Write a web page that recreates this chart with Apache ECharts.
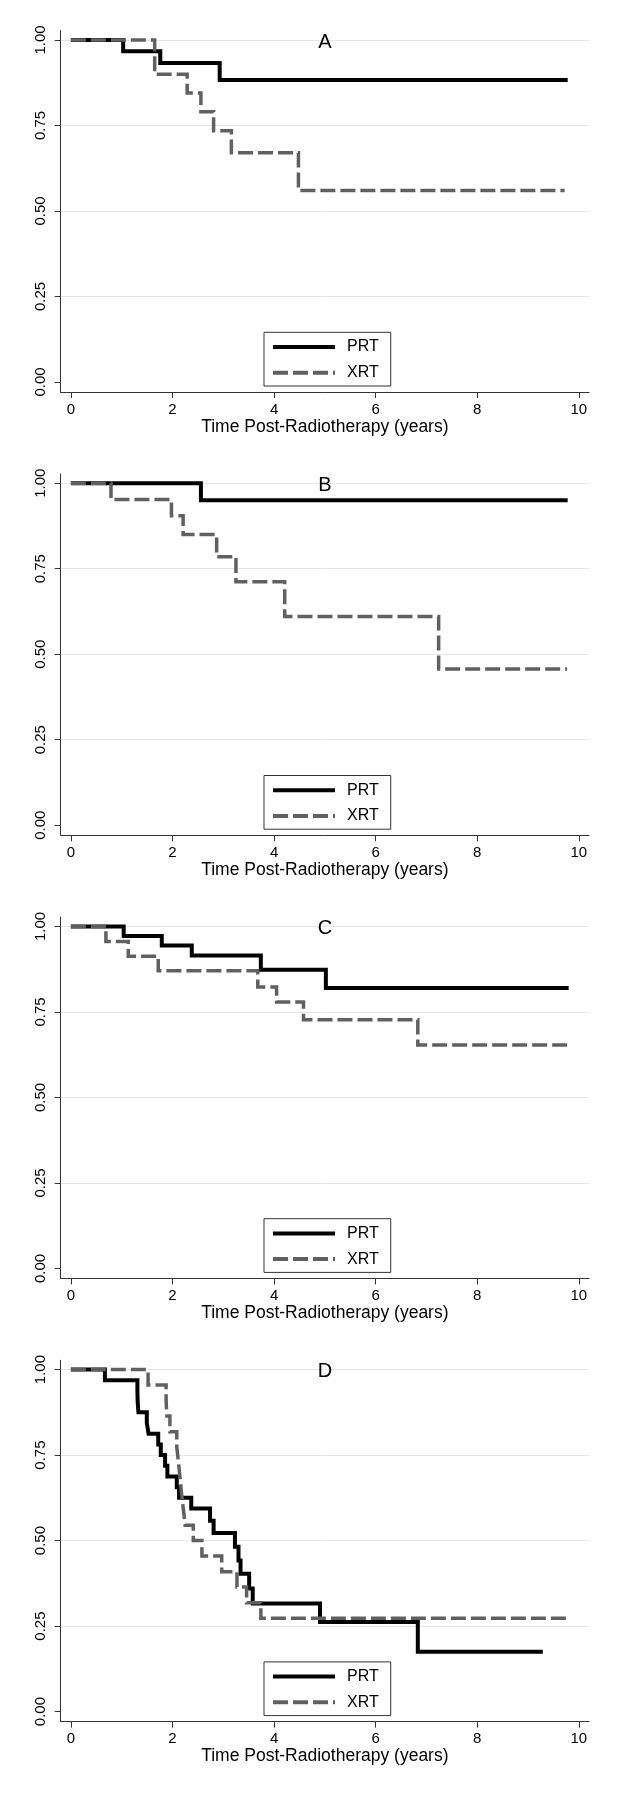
<!DOCTYPE html>
<html>
<head>
<meta charset="utf-8">
<script src="https://cdn.jsdelivr.net/npm/echarts@6/dist/echarts.min.js"></script>
<style>
html,body{margin:0;padding:0;background:#fff;}
#chart{width:619px;height:1800px;}
</style>
</head>
<body>
<div id="chart"></div>
<script>
// ---- Data ----
const panelLabels = ['A', 'B', 'C', 'D'];
const seriesNames = ['PRT', 'XRT'];
const xTickValues = [0, 2, 4, 6, 8, 10];
const yTickValues = [0, 0.25, 0.5, 0.75, 1];
const yGridValues = [0.25, 0.5, 0.75, 1];
const xTitle = 'Time Post-Radiotherapy (years)';

// Panel A
const A_PRT_t = [0, 1.03, 1.76, 2.93, 9.78];
const A_PRT_s = [1, 0.967, 0.933, 0.883, 0.883];
const A_XRT_t = [0, 1.65, 2.29, 2.56, 2.81, 3.16, 4.48, 9.72];
const A_XRT_s = [1, 0.90, 0.845, 0.79, 0.735, 0.67, 0.56, 0.56];
// Panel B
const B_PRT_t = [0, 2.56, 9.78];
const B_PRT_s = [1, 0.95, 0.95];
const B_XRT_t = [0, 0.79, 1.98, 2.21, 2.87, 3.25, 4.21, 7.24, 9.77];
const B_XRT_s = [1, 0.952, 0.905, 0.85, 0.785, 0.712, 0.61, 0.457, 0.457];
// Panel C
const C_PRT_t = [0, 1.04, 1.79, 2.38, 3.74, 5.02, 9.80];
const C_PRT_s = [1, 0.972, 0.944, 0.915, 0.873, 0.82, 0.82];
const C_XRT_t = [0, 0.69, 1.13, 1.72, 3.68, 4.05, 4.58, 6.83, 9.80];
const C_XRT_s = [1, 0.956, 0.913, 0.87, 0.823, 0.779, 0.727, 0.653, 0.653];
// Panel D
const D_PRT_t = [0, 0.67, 1.31, 1.315, 1.33, 1.495, 1.53, 1.72, 1.77, 1.855, 1.90, 2.085, 2.13, 2.37, 2.74, 2.81, 3.23, 3.30, 3.34, 3.51, 3.58, 4.905, 6.83, 9.29];
const D_PRT_s = [1, 0.969, 0.938, 0.906, 0.875, 0.844, 0.8125, 0.781, 0.75, 0.719, 0.6875, 0.656, 0.625, 0.594, 0.558, 0.522, 0.482, 0.442, 0.403, 0.36, 0.316, 0.262, 0.175, 0.175];
const D_XRT_t = [0, 1.52, 1.875, 1.89, 1.95, 2.085, 2.12, 2.15, 2.18, 2.215, 2.25, 2.41, 2.58, 2.97, 3.27, 3.46, 3.74, 9.80];
const D_XRT_s = [1, 0.955, 0.909, 0.864, 0.818, 0.773, 0.727, 0.682, 0.636, 0.591, 0.545, 0.50, 0.455, 0.409, 0.364, 0.318, 0.273, 0.273];

const panelData = [
  [[A_PRT_t, A_PRT_s], [A_XRT_t, A_XRT_s]],
  [[B_PRT_t, B_PRT_s], [B_XRT_t, B_XRT_s]],
  [[C_PRT_t, C_PRT_s], [C_XRT_t, C_XRT_s]],
  [[D_PRT_t, D_PRT_s], [D_XRT_t, D_XRT_s]]
];

// ---- Layout / style ----
const FONT = '"Liberation Sans", Arial, Helvetica, sans-serif';
const PITCH = 443.2;
const GRID_LEFT = 60.7, GRID_RIGHT = 30, GRID_TOP = 30.7, GRID_H = 361.3;
const AXIS_COLOR = '#333333';
const seriesColors = ['#000000', '#606060'];
const seriesWidths = [4, 3.5];
const seriesDash = ['solid', [15, 5]];
const letterWidthEm = { A: 0.667, B: 0.667, C: 0.722, D: 0.722 };

function zip(t, s) { return t.map((v, i) => [v, s[i]]); }

const grids = [], xAxes = [], yAxes = [], series = [], legends = [], titles = [];
for (let k = 0; k < 4; k++) {
  const off = PITCH * k;
  grids.push({ left: GRID_LEFT, right: GRID_RIGHT, top: GRID_TOP + off, height: GRID_H, containLabel: false });
  xAxes.push({
    type: 'value', gridIndex: k, min: -0.2, max: 10.2,
    axisLine: { show: true, onZero: false, lineStyle: { color: AXIS_COLOR, width: 1 } },
    axisTick: { show: true, customValues: xTickValues, length: 6, lineStyle: { color: AXIS_COLOR, width: 1 } },
    axisLabel: { show: true, customValues: xTickValues, margin: 10, fontSize: 15, color: '#000', fontFamily: FONT },
    splitLine: { show: false },
    name: xTitle, nameLocation: 'middle', nameGap: 26,
    nameTextStyle: { fontSize: 17.5, color: '#000', fontFamily: FONT }
  });
  // main y axis: line, ticks, labels
  yAxes.push({
    type: 'value', gridIndex: k, min: -0.0292, max: 1.0272,
    axisLine: { show: true, onZero: false, lineStyle: { color: AXIS_COLOR, width: 1 } },
    axisTick: { show: true, customValues: yTickValues, length: 6, lineStyle: { color: AXIS_COLOR, width: 1 } },
    axisLabel: { show: true, customValues: yTickValues, rotate: 90, margin: 12, fontSize: 15, color: '#000', fontFamily: FONT,
      formatter: v => Number(v).toFixed(2) },
    splitLine: { show: false }
  });
  // helper y axis: only grid lines
  yAxes.push({
    type: 'value', gridIndex: k, min: -0.0292, max: 1.0272, position: 'left',
    axisLine: { show: false },
    axisTick: { show: false, customValues: yGridValues },
    axisLabel: { show: false, customValues: yGridValues },
    splitLine: { show: true, lineStyle: { color: '#e6e6e6', width: 1 } }
  });
  for (let j = 0; j < 2; j++) {
    const [t, s] = panelData[k][j];
    series.push({
      type: 'line', name: seriesNames[j], xAxisIndex: k, yAxisIndex: 2 * k,
      data: zip(t, s), step: 'end', symbol: 'none', silent: true, animation: false,
      lineStyle: { color: seriesColors[j], width: seriesWidths[j], type: seriesDash[j], cap: 'butt', join: 'miter' },
      itemStyle: { color: seriesColors[j] },
      z: 2 + j
    });
  }
  legends.push({
    data: seriesNames, orient: 'vertical', left: 264, top: 332.3 + off,
    itemWidth: 62, itemHeight: 16, itemGap: 9.7,
    padding: [6.7, 12, 5.3, 7],
    backgroundColor: '#ffffff', borderColor: AXIS_COLOR, borderWidth: 1, borderRadius: 0,
    selectedMode: false,
    lineStyle: { width: 4 },
    itemStyle: { opacity: 0, borderWidth: 0 },
    textStyle: { fontSize: 16, lineHeight: 16, color: '#000', fontFamily: FONT, padding: [0, 0, 0, 7] }
  });
  const L = panelLabels[k];
  titles.push({
    text: L, left: 324.85 - letterWidthEm[L] * 20 / 2, top: 32 + off, padding: 0,
    textStyle: { fontSize: 20, fontWeight: 'normal', color: '#000', fontFamily: FONT }
  });
}

const chart = echarts.init(document.getElementById('chart'), null, { renderer: 'canvas' });
chart.setOption({
  backgroundColor: '#ffffff',
  animation: false,
  title: titles,
  legend: legends,
  grid: grids,
  xAxis: xAxes,
  yAxis: yAxes,
  series: series
});
</script>
</body>
</html>
